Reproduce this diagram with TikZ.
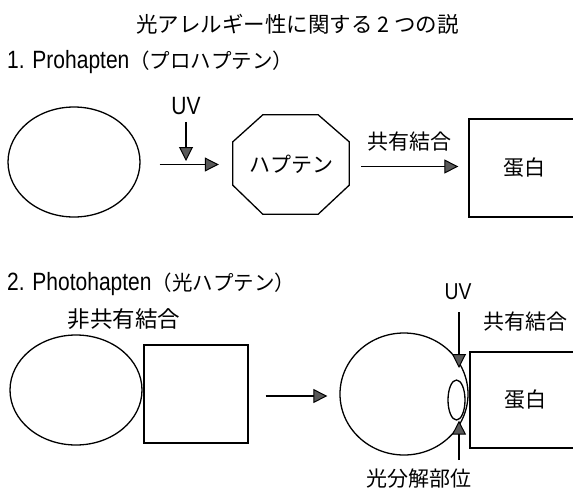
\documentclass[tikz,border=0pt]{standalone}
\usepackage{fontspec}
\setmainfont{Liberation Sans}[FakeStretch=0.84]
\newfontfamily\cjk{Noto Sans CJK JP}
\usetikzlibrary{arrows.meta,shapes.geometric}
\tikzset{
  outline/.style={draw, line width=1.3pt},
  oval/.style={ellipse, draw, line width=1.3pt, inner sep=0pt},
  arr/.style={line width=1.6pt, -{Triangle[length=14pt,width=14pt,line width=1pt,fill=black!65]}},
  jp/.style={font=\cjk\fontsize{21}{25}\selectfont, inner sep=0pt},
  jpbig/.style={font=\cjk\fontsize{22.5}{26}\selectfont, inner sep=0pt},
  lat/.style={font=\fontsize{25}{29}\selectfont, inner sep=0pt},
  latsm/.style={font=\fontsize{23}{27}\selectfont, inner sep=0pt},
}
\newcommand{\jph}[1]{{\cjk\fontsize{20.5}{24}\selectfont #1}}
\begin{document}
\begin{tikzpicture}[x=1pt,y=-1pt]
\useasboundingbox (0,0) rectangle (573,491);
\clip (0,0) rectangle (573,491);

% title and headings
\node[jp, font=\cjk\fontsize{21.5}{25}\selectfont] (title) at (297.5,24) {光アレルギー性に関する 2 つの説};
\node[lat, anchor=west] (h1) at (7,62) {1. Prohapten\jph{（プロハプテン）}};
\node[lat, anchor=west] (h2) at (7,284) {2. Photohapten\jph{（光ハプテン）}};

% ---- section 1 ----
\node[oval, minimum width=132pt, minimum height=110pt] (c1) at (74,162) {};
\node[lat] (uv1) at (186,106) {UV};
\coordinate (uv1tip) at (186,161);
\draw[arr, shorten <=7pt] (uv1.south) -- (uv1tip);

\node[jp, minimum width=116pt, minimum height=99pt] (oct) at (291,164.5) {ハプテン};
\draw[line width=1.3pt]
  ([xshift=30pt]oct.north west) -- ([xshift=-31pt]oct.north east)
  -- ([yshift=-27pt]oct.north east) -- ([yshift=29pt]oct.south east)
  -- ([xshift=-31pt]oct.south east) -- ([xshift=30pt]oct.south west)
  -- ([yshift=29pt]oct.south west) -- ([yshift=-27pt]oct.north west) -- cycle;

\draw[arr, shorten <=19pt, shorten >=14pt] (c1.east |- oct.west) -- (oct.west);

\node[jp, outline, minimum width=111pt, minimum height=98pt] (box1) at (524.5,168) {蛋白};
\draw[arr, shorten <=12pt, shorten >=10pt] ([yshift=-2pt]oct.east) -- ([yshift=-2pt]oct.east -| box1.west);
\node[jp] (cov1) at (409,142) {共有結合};

% ---- section 2 ----
\node[jpbig] (nc) at (124,319) {非共有結合};
\node[oval, minimum width=132pt, minimum height=110pt] (c2) at (76,390) {};
\node[outline, minimum width=104pt, minimum height=98pt] (sq) at (196,394) {};

\node[oval, minimum width=128pt, minimum height=122pt] (c3) at (404,394) {};
\draw[arr, shorten <=17pt, shorten >=12pt] ([yshift=-2pt]sq.east) -- ([yshift=-2pt]sq.east -| c3.west);

\node[jp, outline, minimum width=110pt, minimum height=96pt] (box2) at (525,400) {蛋白};
\node[jp] (cov2) at (525,322) {共有結合};

\node[latsm] (uv2) at (458,292) {UV};
\coordinate (uv2tip) at (459,368);
\draw[arr, shorten <=12pt] (uv2.south -| uv2tip) -- (uv2tip);

\node[oval, minimum width=17pt, minimum height=40pt] (site) at (456.5,400) {};
\coordinate (sitebot) at (459,460);
\draw[arr] (sitebot) -- (sitebot |- site.south);
\node[jp] (photo) at (419,479) {光分解部位};
\end{tikzpicture}
\end{document}
